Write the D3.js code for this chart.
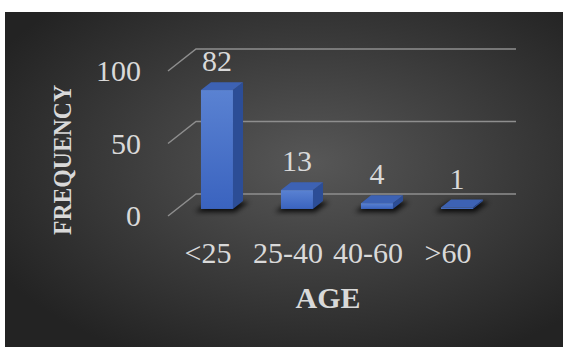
<!DOCTYPE html>
<html>
<head>
<meta charset="utf-8">
<script src="https://cdnjs.cloudflare.com/ajax/libs/d3/7.8.5/d3.min.js"></script>
<style>
  body { margin: 0; background: #fff; }
  svg text { font-family: "Liberation Serif", "Times New Roman", serif; fill: #d9d9d9; }
</style>
</head>
<body>
<svg width="563" height="347"></svg>
<script>
const categorias = ['<25', '25-40', '40-60', '>60'];
const frequencias = [82, 13, 4, 1];
const ticksY = [0, 50, 100];
const tituloX = 'AGE';
const tituloY = 'FREQUENCY';

const svg = d3.select('svg');
const largura = +svg.attr('width');
const altura = +svg.attr('height');

const defs = svg.append('defs');

// fundo com gradiente radial
const fundo = defs.append('radialGradient')
    .attr('id', 'fundo')
    .attr('cx', '55%').attr('cy', '45%').attr('r', '65%');
fundo.append('stop').attr('offset', '0%').attr('stop-color', '#575757');
fundo.append('stop').attr('offset', '100%').attr('stop-color', '#232323');

const frente = defs.append('linearGradient')
    .attr('id', 'frente').attr('x1', 0).attr('y1', 0).attr('x2', 0).attr('y2', 1);
frente.append('stop').attr('offset', '0%').attr('stop-color', '#5a82d2');
frente.append('stop').attr('offset', '100%').attr('stop-color', '#3a63bf');

defs.append('filter').attr('id', 'sombra')
    .attr('x', '-50%').attr('y', '-50%').attr('width', '200%').attr('height', '200%')
    .append('feGaussianBlur').attr('stdDeviation', 2.5);

svg.append('rect')
    .attr('x', 5).attr('y', 12)
    .attr('width', largura - 5).attr('height', altura - 12)
    .attr('fill', 'url(#fundo)');

// escalas no plano da frente do chao
const xEscala = d3.scaleBand()
    .domain(categorias)
    .range([168, 488]);

const yEscala = d3.scaleLinear()
    .domain([0, 100])
    .range([216, 71]);

// vetor de profundidade do chao
const prof = { dx: 28, dy: -22 };
const planoBarra = 0.32, fundoBarra = 0.68;
const larguraBarra = xEscala.bandwidth() * 0.4;

const g = svg.append('g');

// linhas de grade
ticksY.forEach(t => {
    const y0 = yEscala(t);
    g.append('polyline')
        .attr('points', [
            [xEscala.range()[0], y0],
            [xEscala.range()[0] + prof.dx, y0 + prof.dy],
            [xEscala.range()[1] + prof.dx, y0 + prof.dy]
        ].map(p => p.join(',')).join(' '))
        .attr('fill', 'none')
        .attr('stroke', '#8e8e8e')
        .attr('stroke-width', 1.5);
});

// rotulos do eixo y
g.selectAll('.tick-y').data(ticksY)
    .enter().append('text')
    .attr('class', 'tick-y')
    .attr('x', 141)
    .attr('y', d => yEscala(d) + 10)
    .attr('text-anchor', 'end')
    .attr('font-size', 30)
    .text(d => d);

// barras 3d
const dados = categorias.map((c, i) => ({ cat: c, val: frequencias[i] }));

const barras = g.selectAll('.barra').data(dados)
    .enter().append('g').attr('class', 'barra');

barras.each(function(d) {
    const b = d3.select(this);
    const fx = xEscala(d.cat) + xEscala.bandwidth() / 2 - larguraBarra / 2 + prof.dx * planoBarra;
    const ox = prof.dx * planoBarra, oy = prof.dy * planoBarra;
    const bx = prof.dx * (fundoBarra - planoBarra), by = prof.dy * (fundoBarra - planoBarra);
    const yBase = yEscala(0) + oy;
    const yTopo = yEscala(d.val) + oy;
    const w = larguraBarra;

    // sombra
    b.append('polygon')
        .attr('points', [
            [fx - 6, yBase + 3], [fx + w + 2, yBase + 3],
            [fx + w + bx + 6, yBase + by + 1], [fx + bx - 2, yBase + by + 1]
        ].map(p => p.join(',')).join(' '))
        .attr('fill', '#000')
        .attr('opacity', 0.85)
        .attr('filter', 'url(#sombra)');

    // lado
    b.append('polygon')
        .attr('points', [
            [fx + w, yTopo], [fx + w + bx, yTopo + by],
            [fx + w + bx, yBase + by], [fx + w, yBase]
        ].map(p => p.join(',')).join(' '))
        .attr('fill', '#2c4d96');

    // topo
    b.append('polygon')
        .attr('points', [
            [fx, yTopo], [fx + w, yTopo],
            [fx + w + bx, yTopo + by], [fx + bx, yTopo + by]
        ].map(p => p.join(',')).join(' '))
        .attr('fill', '#3d62b4');

    // frente
    b.append('rect')
        .attr('x', fx).attr('y', yTopo)
        .attr('width', w).attr('height', Math.max(yBase - yTopo, 0.5))
        .attr('fill', 'url(#frente)');

    // rotulo de valor
    b.append('text')
        .attr('x', fx + w / 2)
        .attr('y', yTopo + by - 21 + 10)
        .attr('text-anchor', 'middle')
        .attr('font-size', 30)
        .text(d.val);
});

// rotulos do eixo x
g.selectAll('.tick-x').data(categorias)
    .enter().append('text')
    .attr('class', 'tick-x')
    .attr('x', d => xEscala(d) + xEscala.bandwidth() / 2)
    .attr('y', 263)
    .attr('text-anchor', 'middle')
    .attr('font-size', 30)
    .text(d => d);

// titulos
svg.append('text')
    .attr('x', 328)
    .attr('y', 308)
    .attr('text-anchor', 'middle')
    .attr('font-size', 30)
    .attr('font-weight', 'bold')
    .text(tituloX);

svg.append('text')
    .attr('transform', 'translate(71,160) rotate(-90)')
    .attr('text-anchor', 'middle')
    .attr('font-size', 25)
    .attr('font-weight', 'bold')
    .attr('textLength', 150)
    .attr('lengthAdjust', 'spacingAndGlyphs')
    .text(tituloY);
</script>
</body>
</html>
